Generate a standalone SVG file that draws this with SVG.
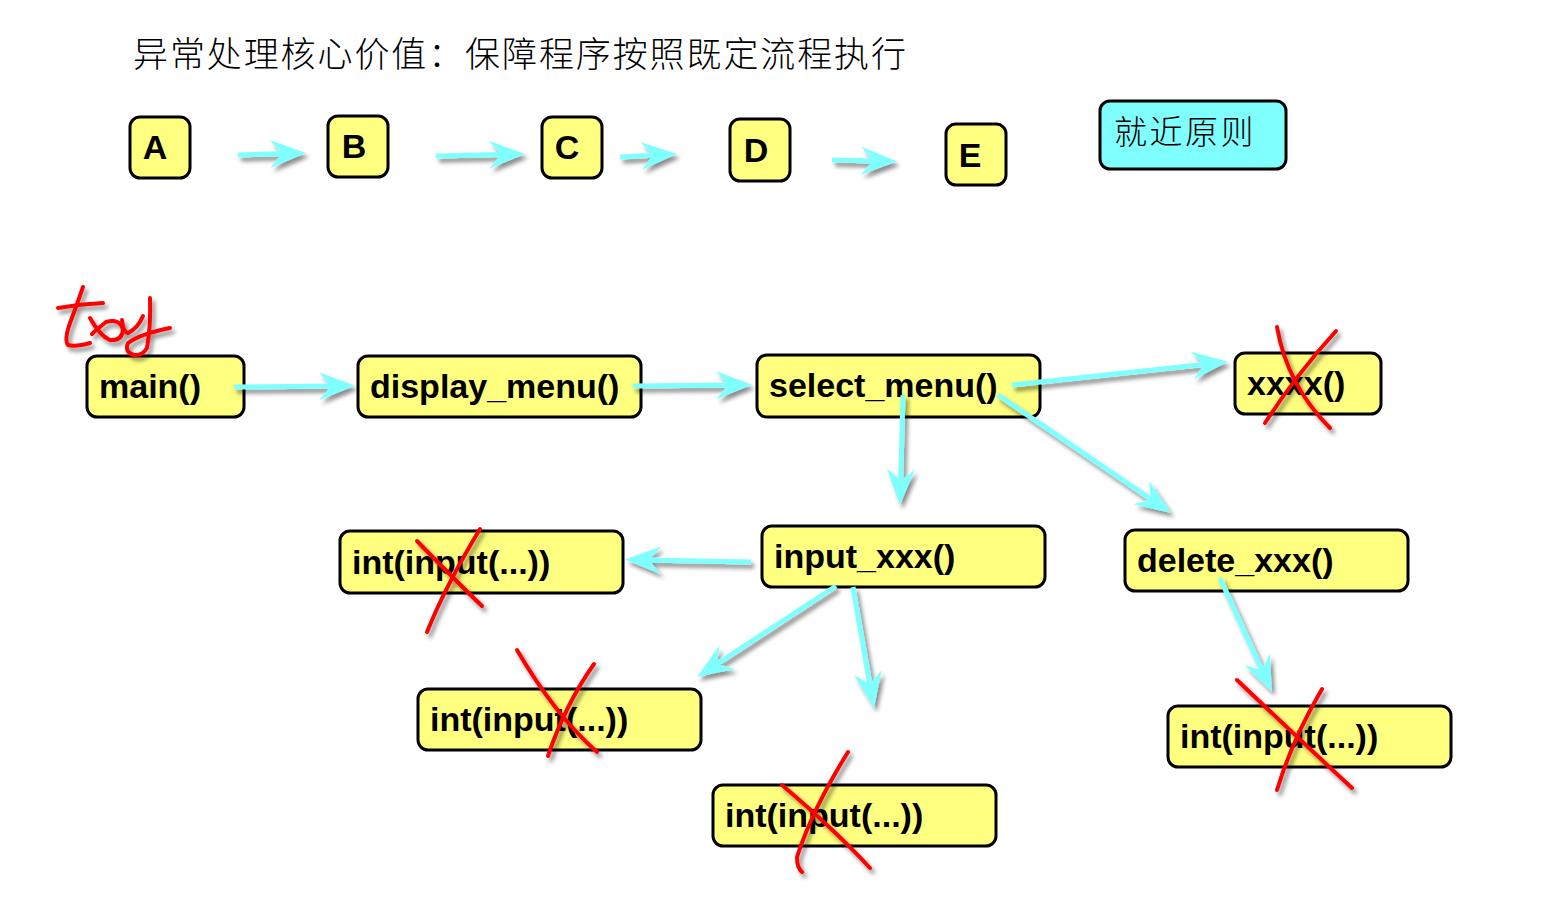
<svg xmlns="http://www.w3.org/2000/svg" width="1568" height="917" viewBox="0 0 1568 917">
<defs>
<style>
.box{fill:#FFFF80;stroke:#000;stroke-width:3}
.cyanbox{fill:#80FFFF;stroke:#000;stroke-width:3}
.lbl{font-family:"Liberation Sans",Arial,sans-serif;font-weight:bold;font-size:34px;fill:#000}
.big{font-family:"Liberation Sans",Arial,sans-serif;font-weight:bold;font-size:34px;fill:#000}
.cjk{font-family:"Noto Sans CJK SC","Noto Sans CJK JP",sans-serif;font-weight:300;fill:#000}
.arr{stroke:#80FFFF;stroke-width:5;fill:none;marker-end:url(#ah)}
.red{stroke:#FF0000;stroke-width:4;fill:none;stroke-linecap:round;stroke-linejoin:round}
</style>
<marker id="ah" markerUnits="userSpaceOnUse" markerWidth="44" markerHeight="34" viewBox="-4 -16 44 32" refX="16" refY="0" orient="auto">
<path d="M36 0 L0 -14 L12 0 L0 14 Z" fill="#80FFFF"/>
</marker>
<filter id="sh" x="-20%" y="-20%" width="140%" height="140%">
<feDropShadow dx="3" dy="4" stdDeviation="2" flood-color="#000" flood-opacity="0.45"/>
</filter>
</defs>
<rect width="1568" height="917" fill="#fff"/>

<text class="cjk" x="133" y="67" font-size="35" letter-spacing="1.9">异常处理核心价值：保障程序按照既定流程执行</text>

<g id="nA"><rect class="box" x="130" y="117" width="60" height="61" rx="10"/><text class="big" x="155" y="159" text-anchor="middle">A</text></g>
<g id="nB"><rect class="box" x="328" y="116" width="60" height="61" rx="10"/><text class="big" x="354" y="158" text-anchor="middle">B</text></g>
<g id="nC"><rect class="box" x="542" y="117" width="60" height="61" rx="10"/><text class="big" x="567" y="159" text-anchor="middle">C</text></g>
<g id="nD"><rect class="box" x="730" y="119" width="60" height="62" rx="10"/><text class="big" x="756" y="162" text-anchor="middle">D</text></g>
<g id="nE"><rect class="box" x="946" y="124" width="60" height="61" rx="10"/><text class="big" x="970" y="167" text-anchor="middle">E</text></g>
<g id="nRule"><rect class="cyanbox" x="1100" y="101" width="186" height="68" rx="10"/><text class="cjk" x="1114" y="144" font-size="33" letter-spacing="2.5">就近原则</text></g>

<g id="nMain"><rect class="box" x="87" y="356" width="157" height="61" rx="10"/><text class="lbl" x="99" y="398">main()</text></g>
<g id="nDisplay"><rect class="box" x="358" y="356" width="283" height="61" rx="10"/><text class="lbl" x="370" y="398">display_menu()</text></g>
<g id="nSelect"><rect class="box" x="757" y="355" width="283" height="62" rx="10"/><text class="lbl" x="769" y="397">select_menu()</text></g>
<g id="nXxxx"><rect class="box" x="1235" y="353" width="146" height="61" rx="10"/><text class="lbl" x="1247" y="395">xxxx()</text></g>
<g id="nIntL"><rect class="box" x="340" y="531" width="283" height="62" rx="10"/><text class="lbl" x="352" y="574">int(input(...))</text></g>
<g id="nInputX"><rect class="box" x="762" y="526" width="283" height="61" rx="10"/><text class="lbl" x="774" y="568">input_xxx()</text></g>
<g id="nDelete"><rect class="box" x="1125" y="530" width="283" height="61" rx="10"/><text class="lbl" x="1137" y="572">delete_xxx()</text></g>
<g id="nIntM"><rect class="box" x="418" y="689" width="283" height="61" rx="10"/><text class="lbl" x="430" y="731">int(input(...))</text></g>
<g id="nIntB"><rect class="box" x="713" y="785" width="283" height="61" rx="10"/><text class="lbl" x="725" y="827">int(input(...))</text></g>
<g id="nIntR"><rect class="box" x="1168" y="706" width="283" height="61" rx="10"/><text class="lbl" x="1180" y="748">int(input(...))</text></g>

<g id="connectors" filter="url(#sh)">
<line class="arr" x1="238" y1="155" x2="286" y2="153.5"/>
<line class="arr" x1="436" y1="156" x2="505" y2="154.5"/>
<line class="arr" x1="620" y1="157" x2="657" y2="155"/>
<line class="arr" x1="832" y1="160" x2="877" y2="161"/>
<line class="arr" x1="234" y1="387" x2="335" y2="386"/>
<line class="arr" x1="633" y1="386" x2="732" y2="385"/>
<line class="arr" x1="1012" y1="385" x2="1208" y2="364"/>
<line class="arr" x1="903" y1="395" x2="900.5" y2="485"/>
<line class="arr" x1="998" y1="395" x2="1154.5" y2="501.7"/>
<line class="arr" x1="751" y1="562" x2="645" y2="560"/>
<line class="arr" x1="836" y1="586" x2="713.7" y2="666"/>
<line class="arr" x1="853" y1="587" x2="870.6" y2="688.3"/>
<line class="arr" x1="1220" y1="578" x2="1263.7" y2="673.8"/>
</g>

<g id="marks" filter="url(#sh)">
<path class="red" d="M83 287 Q75 310 70 323 Q64 340 68 345 Q76 347 90 343"/>
<path class="red" d="M58 308 Q80 304 103 303"/>
<path class="red" d="M90 318 Q100 336 110 340 Q122 341 123 330 Q120 318 106 322 Q96 330 92 334"/>
<path class="red" d="M122 320 Q123 332 128 333 Q138 328 143 316"/>
<path class="red" d="M150 298 Q151 325 147 348 Q142 356 134 355 Q124 352 128 343 Q140 334 170 328"/>
<path class="red" d="M1277 327 Q1287 385 1330 428"/>
<path class="red" d="M1336 331 Q1296 375 1265 423"/>
<path class="red" d="M417 541 Q455 580 482 606"/>
<path class="red" d="M480 529 Q446 585 427 632"/>
<path class="red" d="M517 650 Q555 715 597 752"/>
<path class="red" d="M594 664 Q565 705 548 756"/>
<path class="red" d="M782 785 Q835 830 870 868"/>
<path class="red" d="M848 752 Q812 810 797 857 Q797 868 802 872"/>
<path class="red" d="M1237 680 Q1300 740 1352 788"/>
<path class="red" d="M1322 689 Q1292 740 1277 790"/>
</g>
</svg>
